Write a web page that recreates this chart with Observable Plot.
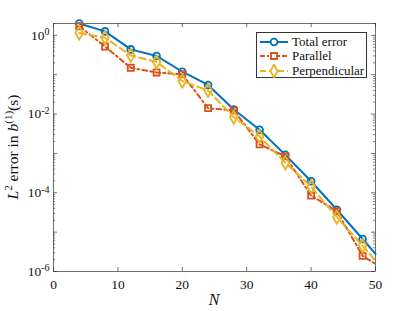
<!DOCTYPE html>
<html><head><meta charset="utf-8">
<script src="https://cdn.jsdelivr.net/npm/d3@7"></script>
<script src="https://cdn.jsdelivr.net/npm/@observablehq/plot@0.6"></script>
<style>
body{margin:0;background:#fff;}
#wrap{position:relative;width:415px;height:311px;font-family:"Times New Roman",serif;}
#legend{position:absolute;left:256px;top:32px;width:111px;height:46px;border:0.7px solid #333;background:#fff;box-sizing:border-box;font-family:"Times New Roman",serif;}
#legend .row{position:absolute;left:0;height:15px;display:flex;align-items:center;font-size:13px;color:#111;white-space:nowrap;}
#legend svg{margin-left:2px;margin-right:3px;}
</style>
</head><body>
<div id="wrap"></div>
<script>
const N = [4, 8, 12, 16, 20, 24, 28, 32, 36, 40, 44, 48, 50];
const totalErr = [2.0, 1.26, 0.44, 0.30, 0.119, 0.055, 0.0131, 0.0040, 9.2e-4, 1.96e-4, 3.7e-5, 6.7e-6, 2.8e-6];
const parallelErr = [1.7, 0.52, 0.15, 0.114, 0.102, 0.0141, 0.0124, 0.0017, 8.4e-4, 8.5e-5, 3.4e-5, 2.5e-6, 1.55e-6];
const perpErr = [1.15, 0.87, 0.31, 0.21, 0.069, 0.040, 0.0083, 0.0027, 5.8e-4, 1.44e-4, 2.4e-5, 4.5e-6, 1.9e-6];
const seriesNames = ["Total error", "Parallel", "Perpendicular"];
const colors = ["#0072BD", "#D95319", "#EDB120"];
const dashes = [null, "5,3,2,3", "7,4"];
const symbols = ["circle", "square", "diamond"];
const xTicks = [0, 10, 20, 30, 40, 50];
const yLabelTicks = [1e-6, 1e-4, 1e-2, 1];
const yMajor = [1e-6, 1e-5, 1e-4, 1e-3, 1e-2, 1e-1, 1];
const markerMaxN = 48;

const FONT = "Times New Roman, serif";
const series = [totalErr, parallelErr, perpErr];
const rows = [];
series.forEach((vals, si) => N.forEach((n, i) => rows.push({N: n, v: vals[i], s: seriesNames[si], si})));

const yMinor = [];
yMajor.forEach(d => { for (let m = 2; m <= 9; m++) if (d * m <= 2) yMinor.push(d * m); });

const axisCol = "#333";
const xMaj = 0.62, xMin = 0.33;
const yFac = 1.265;

const marks = [
  Plot.frame({stroke: axisCol, strokeWidth: 0.7}),
  Plot.ruleY(yMajor, {y: d => d, x1: 0, x2: xMaj, stroke: axisCol, strokeWidth: 0.7}),
  Plot.ruleY(yMajor, {y: d => d, x1: 50 - xMaj, x2: 50, stroke: axisCol, strokeWidth: 0.7}),
  Plot.ruleY(yMinor, {y: d => d, x1: 0, x2: xMin, stroke: axisCol, strokeWidth: 0.6}),
  Plot.ruleY(yMinor, {y: d => d, x1: 50 - xMin, x2: 50, stroke: axisCol, strokeWidth: 0.6}),
  Plot.ruleX(xTicks, {x: d => d, y1: 1e-6, y2: 1e-6 * yFac, stroke: axisCol, strokeWidth: 0.7}),
  Plot.ruleX(xTicks, {x: d => d, y1: 2, y2: 2 / yFac, stroke: axisCol, strokeWidth: 0.7}),
  Plot.axisX({ticks: xTicks, tickSize: 0, tickPadding: 8, fontSize: 13.5, label: null}),
  Plot.axisY({ticks: yLabelTicks, tickSize: 0, tickPadding: 4, fontSize: 13.5, label: null,
    tickFormat: d => String(Math.round(Math.log10(d)))})
];
seriesNames.forEach((name, si) => {
  const data = rows.filter(r => r.si === si);
  marks.push(Plot.line(data, {x: "N", y: "v", stroke: colors[si], strokeWidth: 2,
    strokeDasharray: dashes[si] || undefined}));
  marks.push(Plot.dot(data.filter(r => r.N <= markerMaxN), {x: "N", y: "v", symbol: symbols[si],
    r: si === 2 ? 4 : 3.4, stroke: colors[si], strokeWidth: 1.8, fill: "none"}));
});

const svgEl = Plot.plot({
  width: 415, height: 311,
  marginLeft: 53, marginRight: 40, marginTop: 23, marginBottom: 40,
  x: {domain: [0, 50]},
  y: {type: "log", domain: [1e-6, 2]},
  style: {fontFamily: FONT, fontSize: "13.5px", background: "white", color: "#111"},
  marks
});
document.getElementById("wrap").appendChild(svgEl);

const svg = d3.select(svgEl);
svg.selectAll('g[aria-label="y-axis tick label"] text').each(function() {
  const t = d3.select(this);
  const e = t.text().replace("−", "-");
  t.text("10");
  t.append("tspan").attr("dy", "-0.45em").attr("font-size", "10px").text(e);
});

const yl = svg.append("text")
  .attr("transform", "translate(18,147) rotate(-90)")
  .attr("text-anchor", "middle")
  .attr("font-family", FONT)
  .attr("font-size", 15.5).attr("fill", "#111");
yl.append("tspan").attr("font-style", "italic").text("L");
yl.append("tspan").attr("dy", "-6").attr("font-size", 11).text("2");
yl.append("tspan").attr("dy", "6").text(" error in ");
yl.append("tspan").attr("font-style", "italic").text("b");
yl.append("tspan").attr("dy", "-6").attr("font-size", 11).text("(1)");
yl.append("tspan").attr("dy", "6").text("(s)");

svg.append("text").attr("x", 214).attr("y", 305).attr("text-anchor", "middle")
  .attr("font-family", FONT).attr("font-style", "italic")
  .attr("font-size", 16).attr("fill", "#111").text("N");

// legend
const legend = d3.select("#wrap").append("div").attr("id", "legend");
seriesNames.forEach((name, si) => {
  const row = legend.append("div").attr("class", "row").style("top", (1 + si * 14.5) + "px");
  const s = row.append("svg").attr("width", 30).attr("height", 14);
  s.append("line").attr("x1", 1).attr("x2", 29).attr("y1", 7).attr("y2", 7)
    .attr("stroke", colors[si]).attr("stroke-width", 2)
    .attr("stroke-dasharray", dashes[si] ? (si === 1 ? "5,2,2,2" : "6,3") : null);
  s.append("path").attr("transform", "translate(15,7)")
    .attr("d", d3.symbol(si === 0 ? d3.symbolCircle : si === 1 ? d3.symbolSquare : d3.symbolDiamond, si === 2 ? 46 : 36)())
    .attr("fill", "white").attr("stroke", colors[si]).attr("stroke-width", 1.8);
  row.append("span").text(name);
});
</script>
</body></html>
